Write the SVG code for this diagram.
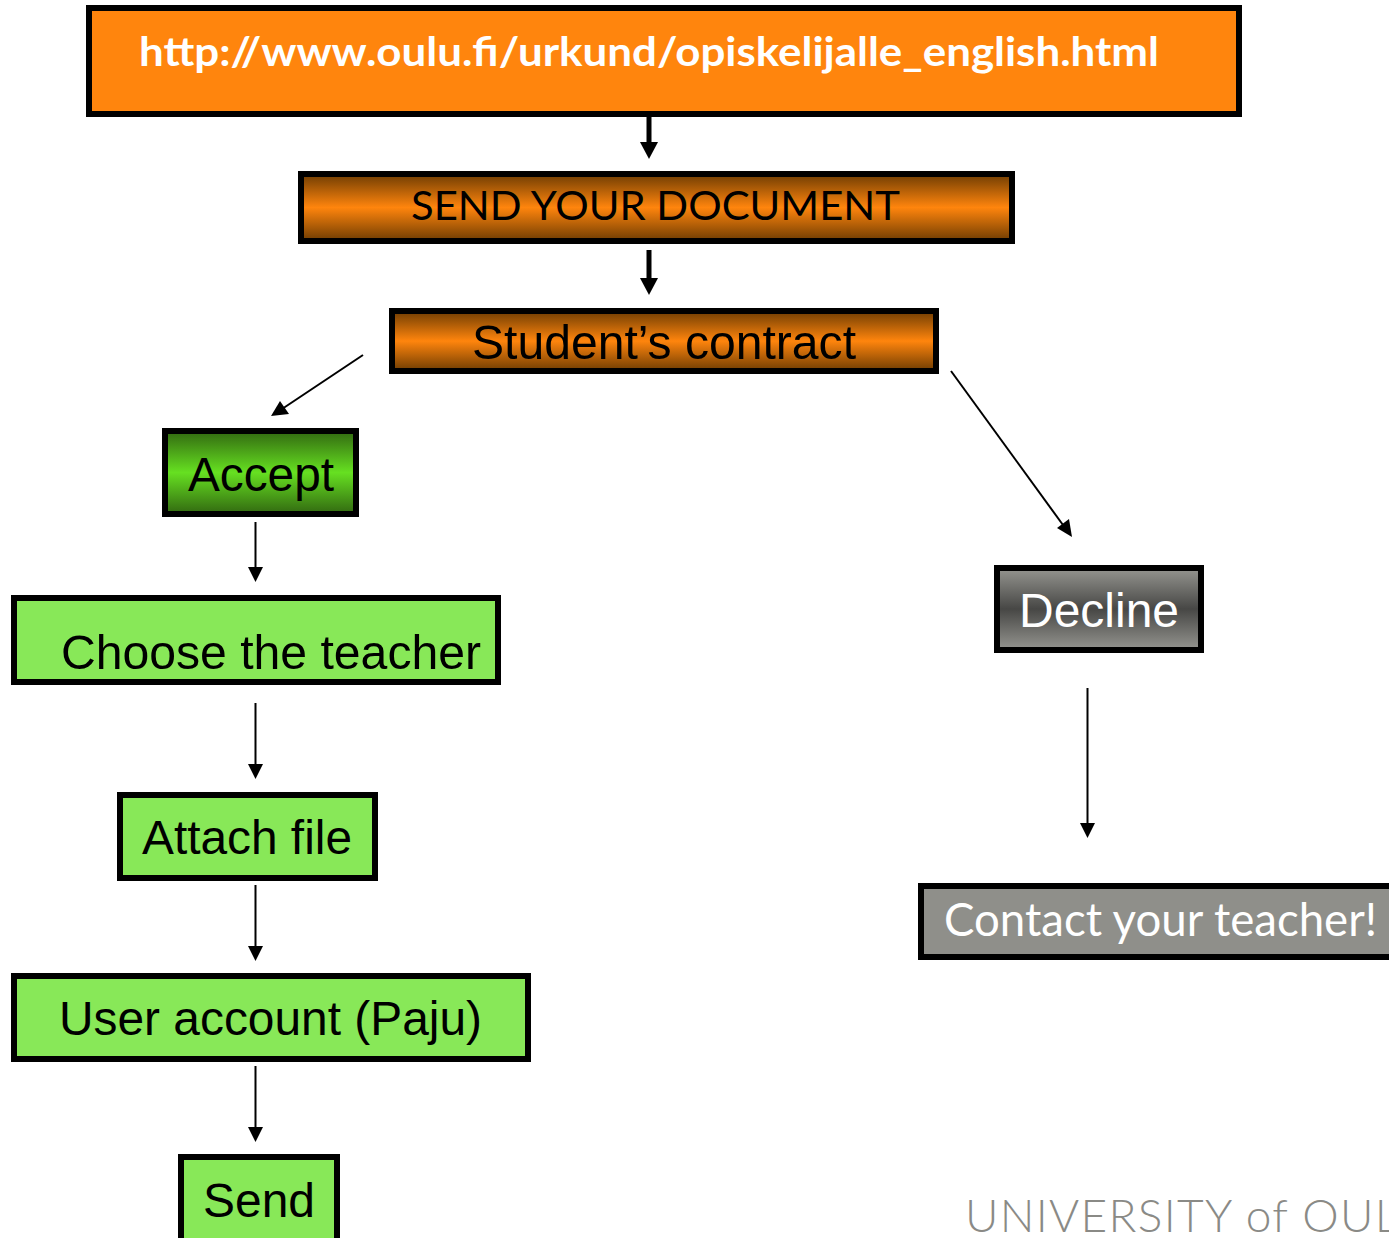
<svg xmlns="http://www.w3.org/2000/svg" width="1389" height="1238" viewBox="0 0 1389 1238">
<style>
.box{stroke:#000;stroke-width:6}
.ar{font-family:"Liberation Sans",Arial,sans-serif;font-size:48px;fill:#000}
.gs{font-family:Lato,"Open Sans",sans-serif}
.thin{stroke:#000;stroke-width:2;fill:none}
.thick{stroke:#000;stroke-width:5;fill:none}
.head{fill:#000}
</style>
<defs>
<linearGradient id="og" x1="0" y1="0" x2="0" y2="1"><stop offset=".04" stop-color="#7a4203"/><stop offset=".5" stop-color="#ff850d"/><stop offset=".96" stop-color="#7a4203"/></linearGradient>
<linearGradient id="gg" x1="0" y1="0" x2="0" y2="1"><stop offset=".04" stop-color="#367212"/><stop offset=".5" stop-color="#66e021"/><stop offset=".96" stop-color="#367212"/></linearGradient>
<linearGradient id="dg" x1="0" y1="0" x2="0" y2="1"><stop offset=".04" stop-color="#8f8f8a"/><stop offset=".5" stop-color="#474745"/><stop offset=".96" stop-color="#8f8f8a"/></linearGradient>
</defs>
<rect width="1389" height="1238" fill="#fff"/>
<g id="connectors">
<path class="thick" d="M649 117V145"/><path class="head" d="M640 142H658L649 159Z"/>
<path class="thick" d="M649 250V281"/><path class="head" d="M640 278H658L649 295Z"/>
<path class="thin" d="M363 355L282 409"/><path class="head" d="M271 416L280 401L289 414Z"/>
<path class="thin" d="M951 371L1063 525"/><path class="head" d="M1072 537L1057 528L1069 519Z"/>
<path class="thin" d="M255.500 522V570"/><path class="head" d="M248 567H263L255.500 582Z"/>
<path class="thin" d="M255.500 703V767"/><path class="head" d="M248 764H263L255.500 779Z"/>
<path class="thin" d="M255.500 885V949"/><path class="head" d="M248 946H263L255.500 961Z"/>
<path class="thin" d="M255.500 1066V1130"/><path class="head" d="M248 1127H263L255.500 1142Z"/>
<path class="thin" d="M1087.500 688V826"/><path class="head" d="M1080 823H1095L1087.500 838Z"/>
</g>
<g id="node-url"><rect class="box" x="89" y="8" width="1150" height="106" fill="#ff850d"/>
<text class="gs" x="139" y="66" font-size="41" font-weight="700" fill="#fff" textLength="1020" lengthAdjust="spacingAndGlyphs">http://www.oulu.fi/urkund/opiskelijalle_english.html</text></g>
<g id="node-send-doc"><rect class="box" x="301" y="174" width="711" height="67" fill="url(#og)"/>
<text class="gs" x="411" y="220" font-size="41" fill="#000" textLength="489" lengthAdjust="spacingAndGlyphs">SEND YOUR DOCUMENT</text></g>
<g id="node-contract"><rect class="box" x="392" y="311" width="544" height="60" fill="url(#og)"/>
<text class="ar" x="472" y="359" textLength="384" lengthAdjust="spacingAndGlyphs">Student’s contract</text></g>
<g id="node-accept"><rect class="box" x="165" y="431" width="191" height="83" fill="url(#gg)"/>
<text class="ar" x="188" y="491" textLength="146" lengthAdjust="spacingAndGlyphs">Accept</text></g>
<g id="node-choose"><rect class="box" x="14" y="598" width="484" height="84" fill="#88e858"/>
<text class="ar" x="61" y="669" textLength="420" lengthAdjust="spacingAndGlyphs">Choose the teacher</text></g>
<g id="node-attach"><rect class="box" x="120" y="795" width="255" height="83" fill="#88e858"/>
<text class="ar" x="142" y="854" textLength="210" lengthAdjust="spacingAndGlyphs">Attach file</text></g>
<g id="node-user"><rect class="box" x="14" y="976" width="514" height="83" fill="#88e858"/>
<text class="ar" x="59" y="1035" textLength="423" lengthAdjust="spacingAndGlyphs">User account (Paju)</text></g>
<g id="node-send"><rect class="box" x="181" y="1157" width="156" height="90" fill="#88e858"/>
<text class="ar" x="203" y="1217" textLength="112" lengthAdjust="spacingAndGlyphs">Send</text></g>
<g id="node-decline"><rect class="box" x="997" y="568" width="204" height="82" fill="url(#dg)"/>
<text class="ar" x="1019" y="627" style="fill:#fff" textLength="160" lengthAdjust="spacingAndGlyphs">Decline</text></g>
<g id="node-contact"><rect class="box" x="921" y="886" width="480" height="71" fill="#8f8f8a"/>
<text class="gs" x="944" y="936" font-size="47" fill="#fff" textLength="433" lengthAdjust="spacingAndGlyphs">Contact your teacher!</text></g>
<text id="logo" class="gs" x="965" y="1232" font-size="46" font-weight="300" fill="#8a8a86" textLength="433" lengthAdjust="spacing">UNIVERSITY of OUL</text>
</svg>
